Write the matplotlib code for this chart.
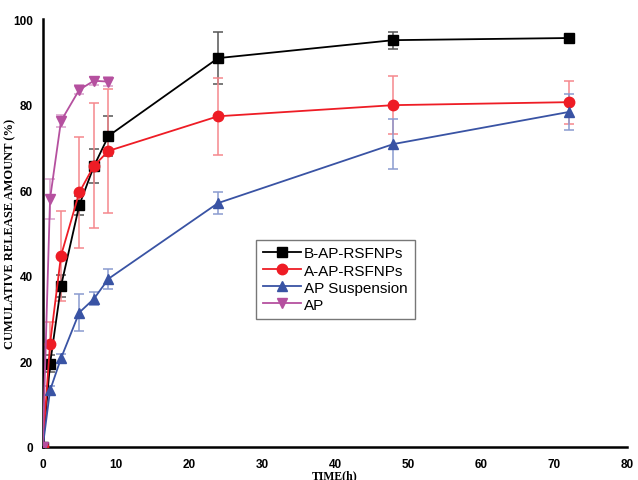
import matplotlib
matplotlib.use("Agg")
import matplotlib.pyplot as plt

# release data (time in h, cumulative release %)
t = [0, 1, 2.5, 5, 7, 9, 24, 48, 72]
t_ap = [0, 1, 2.5, 5, 7, 9]

b_ap = [0, 19.4, 37.6, 56.5, 65.6, 72.7, 90.9, 95.1, 95.6]
b_ap_err = [0, 2.0, 2.5, 2.2, 4.0, 4.7, 6.0, 2.0, 0.5]

a_ap = [0, 24.1, 44.7, 59.5, 65.7, 69.2, 77.3, 79.9, 80.6]
a_ap_err = [0, 5.0, 10.5, 13.0, 14.6, 14.5, 9.0, 6.8, 5.0]

susp = [0, 13.2, 20.7, 31.4, 34.6, 39.3, 57.0, 70.8, 78.3]
susp_err = [0, 1.0, 1.0, 4.3, 1.5, 2.3, 2.5, 5.8, 4.2]

ap = [0, 58.0, 76.2, 83.5, 85.6, 85.4]
ap_err = [0, 4.7, 1.5, 1.0, 1.0, 1.0]

labels = ["B-AP-RSFNPs", "A-AP-RSFNPs", "AP Suspension", "AP"]
colors = ["#000000", "#ee1c25", "#3953a4", "#b5509f"]
err_colors = ["#555555", "#f5888d", "#8a9bd0", "#d8a0cc"]
markers = ["s", "o", "^", "v"]
msizes = [6.5, 7.5, 7.5, 7.5]

fig = plt.figure(figsize=(6.38, 4.81), dpi=100)
ax = fig.add_axes([0.067, 0.069, 0.916, 0.889])

series = [(t, b_ap, b_ap_err), (t, a_ap, a_ap_err), (t, susp, susp_err), (t_ap, ap, ap_err)]
for i, (x, y, e) in enumerate(series):
    ax.errorbar(x, y, yerr=e, fmt="none", ecolor=err_colors[i], elinewidth=1.1, capsize=3.5, capthick=1.1, zorder=2)
    ax.plot(x, y, color=colors[i], marker=markers[i], markersize=msizes[i], linewidth=1.3, label=labels[i], zorder=3)

ax.set_xlim(0, 80)
ax.set_ylim(0, 100)
ax.set_xticks(range(0, 81, 10))
ax.set_yticks(range(0, 101, 20))
ax.tick_params(axis="y", length=0, pad=7)
ax.tick_params(axis="x", length=0, pad=8)
for lab in ax.get_xticklabels() + ax.get_yticklabels():
    lab.set_fontweight("bold")
    lab.set_fontfamily("Liberation Sans")
    lab.set_fontsize(8.5)

ax.spines["top"].set_visible(False)
ax.spines["right"].set_visible(False)
ax.spines["left"].set_linewidth(1.8)
ax.spines["bottom"].set_linewidth(1.8)

ax.set_xlabel("TIME(h)", fontfamily="Liberation Serif", fontweight="bold", fontsize=8.5)
ax.xaxis.set_label_coords(0.5, -0.052)
ax.set_ylabel("CUMULATIVE RELEASE AMOUNT (%)", fontfamily="Liberation Serif", fontweight="bold", fontsize=9)
ax.yaxis.set_label_coords(-0.046, 0.5)

leg = ax.legend(loc="lower left", bbox_to_anchor=(0.365, 0.30), fancybox=False, edgecolor="#555555",
                prop={"family": "Liberation Sans", "size": 11}, handlelength=2.5, borderpad=0.45,
                labelspacing=0.2, handletextpad=0.2, borderaxespad=0)
leg.get_frame().set_linewidth(1)

fig.savefig("out.png", dpi=100)
